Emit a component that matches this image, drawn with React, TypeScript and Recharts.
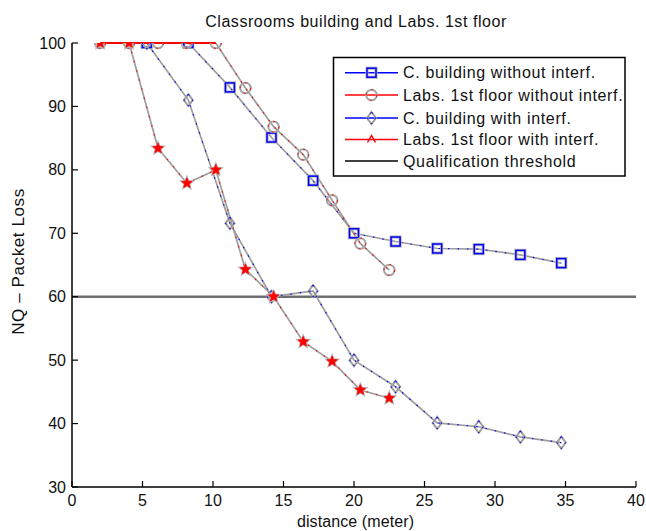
import React from 'react';
import { ComposedChart, Line, XAxis, YAxis, ReferenceLine } from 'recharts';

// ---------- data ----------
const cBuildingDistance = [5.3, 8.25, 11.2, 14.15, 17.1, 20.0, 22.95, 25.9, 28.85, 31.8, 34.7];
const cBuildingWithoutInterf = [100, 100, 93.0, 85.1, 78.3, 70.0, 68.7, 67.6, 67.5, 66.6, 65.3];
const cBuildingWithInterf = [100, 91.0, 71.6, 60.0, 60.9, 50.0, 45.8, 40.1, 39.5, 37.9, 37.0];

const labsDistance = [2, 4.05, 6.1, 8.15, 10.2, 12.3, 14.3, 16.4, 18.45, 20.45, 22.5];
const labsWithoutInterf = [100, 100, 100, 100, 100, 92.9, 86.8, 82.4, 75.2, 68.4, 64.2];
const labsWithInterf = [100, 100, 83.4, 77.9, 80.0, 64.3, 60.0, 52.9, 49.8, 45.3, 44.0];

const qualificationThreshold = 60;

const xTicks = [0, 5, 10, 15, 20, 25, 30, 35, 40];
const yTicks = [30, 40, 50, 60, 70, 80, 90, 100];

const titleText = 'Classrooms building and Labs. 1st floor';
const xLabelText = 'distance (meter)';
const yLabelText = 'NQ \u2013 Packet Loss';
const legendLabels = [
  'C. building without interf.',
  'Labs. 1st floor without interf.',
  'C. building with interf.',
  'Labs. 1st floor with interf.',
  'Qualification threshold',
];

// ---------- helpers ----------
const FONT = '"Liberation Sans", Arial, Helvetica, sans-serif';
const BLUE = '#0000ff';
const RED = '#ff0000';
const LINE_GRAY = '#9e9e9e';
const HALO = '#b8b8b8';

const rows = (xs: number[], ys: number[]) => xs.map((x, i) => ({ x, y: ys[i] }));
const cWithoutRows = rows(cBuildingDistance, cBuildingWithoutInterf);
const cWithRows = rows(cBuildingDistance, cBuildingWithInterf);
const labsWithoutRows = rows(labsDistance, labsWithoutInterf);
const labsWithRows = rows(labsDistance, labsWithInterf);

const labsTop = labsWithoutRows.filter((r) => r.y === 100);

const W = 646;
const H = 531;

function SquareMark({ cx, cy }: { cx: number; cy: number }) {
  return (
    <g>
      <rect x={cx - 4.5} y={cy - 4.5} width={9} height={9} fill="none" stroke={HALO} strokeWidth={3.2} />
      <rect x={cx - 4.5} y={cy - 4.5} width={9} height={9} fill="none" stroke={BLUE} strokeWidth={1.5} />
    </g>
  );
}
function CircleMark({ cx, cy }: { cx: number; cy: number }) {
  return (
    <g>
      <circle cx={cx} cy={cy} r={5.3} fill="none" stroke="#a6a6a6" strokeWidth={2} />
      <circle cx={cx} cy={cy} r={5.3} fill="none" stroke={RED} strokeWidth={1} strokeDasharray="2 6" />
    </g>
  );
}
function DiamondMark({ cx, cy }: { cx: number; cy: number }) {
  const pts = `${cx},${cy - 6} ${cx + 4.5},${cy} ${cx},${cy + 6} ${cx - 4.5},${cy}`;
  return (
    <g>
      <polygon points={pts} fill="none" stroke="#a0a0a0" strokeWidth={2} />
      <polygon points={pts} fill="none" stroke={BLUE} strokeWidth={1} strokeDasharray="2 5" />
    </g>
  );
}
function starPath(cx: number, cy: number, ro: number, ri: number) {
  let d = '';
  for (let i = 0; i < 10; i++) {
    const r = i % 2 === 0 ? ro : ri;
    const a = -Math.PI / 2 + (i * Math.PI) / 5;
    d += `${i === 0 ? 'M' : 'L'}${cx + r * Math.cos(a)},${cy + r * Math.sin(a)}`;
  }
  return d + 'Z';
}
function StarMark({ cx, cy }: { cx: number; cy: number }) {
  const d = starPath(cx, cy, 5.4, 2.4);
  return (
    <g>
      <path d={d} fill="none" stroke={HALO} strokeWidth={2.4} />
      <path d={d} fill={RED} stroke={RED} strokeWidth={0.8} />
    </g>
  );
}

const dotFn = (Comp: any) => (p: any) =>
  p.cx == null || p.cy == null ? <g key={p.index} /> : <Comp key={p.index} cx={p.cx} cy={p.cy} />;

const textStyle = { fontFamily: FONT, fontSize: 16, fill: '#111' } as const;

const BottomTick = (p: any) => (
  <g>
    <line x1={p.x} x2={p.x} y1={p.y} y2={p.y - 6} stroke="#000" strokeWidth={1.2} />
    <text x={p.x} y={p.y + 19} textAnchor="middle" style={textStyle}>
      {p.payload.value}
    </text>
  </g>
);
const TopTick = (p: any) => (
  <line x1={p.x} x2={p.x} y1={p.y} y2={p.y + 6} stroke="#000" strokeWidth={1.2} />
);
const LeftTick = (p: any) => (
  <g>
    <line x1={p.x} x2={p.x + 6} y1={p.y} y2={p.y} stroke="#000" strokeWidth={1.2} />
    <text x={p.x - 6} y={p.y + 5.5} textAnchor="end" style={textStyle}>
      {p.payload.value}
    </text>
  </g>
);
const RightTick = (p: any) => (
  <line x1={p.x} x2={p.x - 6} y1={p.y} y2={p.y} stroke="#000" strokeWidth={1.2} />
);

function Legend() {
  const bx = 333.5;
  const by = 57.5;
  const bw = 291.5;
  const bh = 118.5;
  const ys = [72.7, 95, 118, 139.5, 161];
  const lx1 = 345;
  const lx2 = 398;
  const mx = (lx1 + lx2) / 2;
  const colors = [BLUE, RED, BLUE, RED, '#000'];
  const marks = [SquareMark, CircleMark, DiamondMark, null, null];
  return (
    <g>
      <rect x={bx} y={by} width={bw} height={bh} fill="#fff" stroke="#000" strokeWidth={1.5} />
      {legendLabels.map((lab, i) => {
        const M: any = marks[i];
        return (
          <g key={lab}>
            <line x1={lx1} x2={lx2} y1={ys[i]} y2={ys[i]} stroke={colors[i]} strokeWidth={1.5} />
            {M ? <M cx={mx} cy={ys[i]} /> : null}
            {i === 3 ? (
              <path d={`M${mx - 4},${ys[i] + 3} L${mx},${ys[i] - 4} L${mx + 4},${ys[i] + 3}`} fill="none" stroke={RED} strokeWidth={1.5} />
            ) : null}
            <text x={403} y={ys[i] + 5.5} style={{ ...textStyle, letterSpacing: 0.65 }}>
              {lab}
            </text>
          </g>
        );
      })}
    </g>
  );
}

export default function App() {
  return (
    <div style={{ position: 'absolute', left: 0, top: 0, width: W, height: H, background: '#fff', overflow: 'hidden' }}>
      <ComposedChart
        width={W}
        height={H}
        margin={{ top: 43, right: 10, bottom: 0, left: 0 }}
        style={{ background: '#fff' }}
      >
        <XAxis
          xAxisId="b"
          type="number"
          dataKey="x"
          domain={[0, 40]}
          ticks={xTicks}
          allowDataOverflow
          height={44}
          tickSize={0}
          tickMargin={0}
          tickLine={false}
          axisLine={{ stroke: '#000', strokeWidth: 1.5 }}
          tick={BottomTick}
          interval={0}
        />
        <XAxis
          xAxisId="t"
          orientation="top"
          type="number"
          dataKey="x"
          domain={[0, 40]}
          ticks={xTicks}
          allowDataOverflow
          height={0}
          tickSize={0}
          tickMargin={0}
          tickLine={false}
          axisLine={{ stroke: '#000', strokeWidth: 1.5 }}
          tick={TopTick}
          interval={0}
        />
        <YAxis
          yAxisId="l"
          type="number"
          domain={[30, 100]}
          ticks={yTicks}
          allowDataOverflow
          width={72}
          tickSize={0}
          tickMargin={0}
          tickLine={false}
          axisLine={{ stroke: '#000', strokeWidth: 1.5 }}
          tick={LeftTick}
          interval={0}
        />
        <YAxis
          yAxisId="r"
          orientation="right"
          type="number"
          domain={[30, 100]}
          ticks={yTicks}
          allowDataOverflow
          width={0}
          tickSize={0}
          tickMargin={0}
          tickLine={false}
          axisLine={{ stroke: '#000', strokeWidth: 1.5 }}
          tick={RightTick}
          interval={0}
        />

        <ReferenceLine
          xAxisId="b"
          yAxisId="l"
          y={qualificationThreshold}
          stroke="#6f6f6f"
          strokeWidth={2.6}
        />

        {/* C. building without interf. */}
        <Line xAxisId="b" yAxisId="l" data={cWithoutRows} dataKey="y" stroke={LINE_GRAY} strokeWidth={1.7} dot={false} isAnimationActive={false} />
        <Line xAxisId="b" yAxisId="l" data={cWithoutRows} dataKey="y" stroke={BLUE} strokeWidth={1.1} strokeDasharray="1.5 8" dot={dotFn(SquareMark)} isAnimationActive={false} />
        {/* Labs without interf. */}
        <Line xAxisId="b" yAxisId="l" data={labsWithoutRows} dataKey="y" stroke={LINE_GRAY} strokeWidth={1.7} dot={false} isAnimationActive={false} />
        <Line xAxisId="b" yAxisId="l" data={labsWithoutRows} dataKey="y" stroke={RED} strokeWidth={1.1} strokeDasharray="1.5 8" dot={dotFn(CircleMark)} isAnimationActive={false} />
        {/* C. building with interf. */}
        <Line xAxisId="b" yAxisId="l" data={cWithRows} dataKey="y" stroke={LINE_GRAY} strokeWidth={1.7} dot={false} isAnimationActive={false} />
        <Line xAxisId="b" yAxisId="l" data={cWithRows} dataKey="y" stroke={BLUE} strokeWidth={1.1} strokeDasharray="1.5 8" dot={dotFn(DiamondMark)} isAnimationActive={false} />
        {/* Labs with interf. */}
        <Line xAxisId="b" yAxisId="l" data={labsWithRows} dataKey="y" stroke={LINE_GRAY} strokeWidth={1.7} dot={false} isAnimationActive={false} />
        <ReferenceLine
          xAxisId="b"
          yAxisId="l"
          segment={[
            { x: labsTop[0].x, y: 100 },
            { x: labsTop[labsTop.length - 1].x, y: 100 },
          ]}
          stroke={RED}
          strokeWidth={2}
          ifOverflow="visible"
        />
        <Line xAxisId="b" yAxisId="l" data={labsWithRows} dataKey="y" stroke={RED} strokeWidth={1.1} strokeDasharray="1.5 8" dot={dotFn(StarMark)} isAnimationActive={false} />
      </ComposedChart>

      <svg
        width={W}
        height={H}
        style={{ position: 'absolute', left: 0, top: 0, pointerEvents: 'none' }}
      >
        <text x={356} y={26.5} textAnchor="middle" style={{ ...textStyle, letterSpacing: 0.55 }}>
          {titleText}
        </text>
        <text x={355.5} y={527} textAnchor="middle" style={{ ...textStyle, letterSpacing: 0.1 }}>
          {xLabelText}
        </text>
        <text
          x={0}
          y={0}
          textAnchor="middle"
          transform={`translate(23.5, 261.5) rotate(-90)`}
          style={{ ...textStyle, fontSize: 17, letterSpacing: 0.6 }}
        >
          {yLabelText}
        </text>
        <Legend />
      </svg>
    </div>
  );
}
